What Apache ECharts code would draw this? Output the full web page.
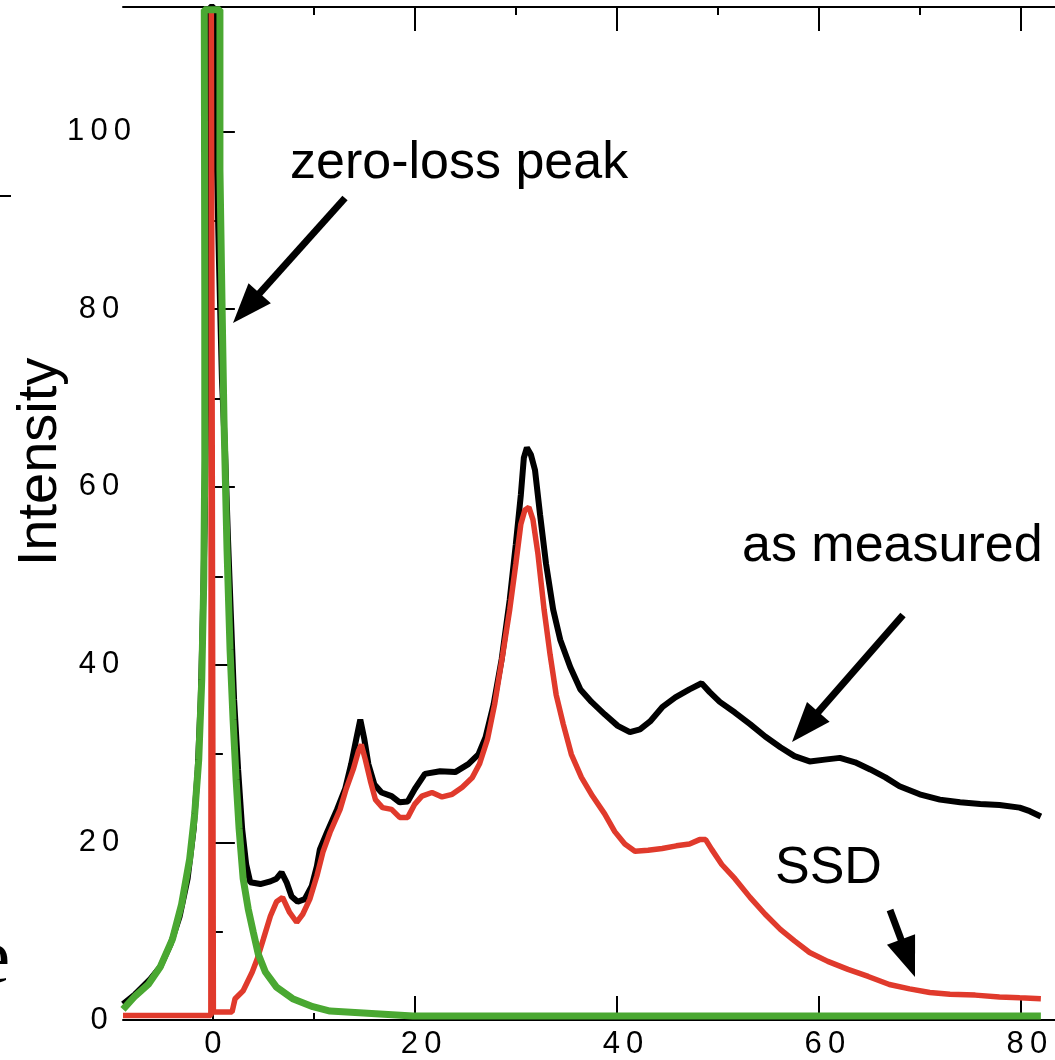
<!DOCTYPE html>
<html><head><meta charset="utf-8">
<script src="https://cdn.jsdelivr.net/npm/echarts@6/dist/echarts.min.js"></script>
<style>html,body{margin:0;padding:0;background:#fff}#c{width:1055px;height:1060px}</style>
</head><body><div id="c"></div>
<script>
const xMajorTicks = [0, 20, 40, 60, 80];
const xMinorTicks = [10, 30, 50, 70];
const yMajorTicks = [0, 20, 40, 60, 80, 100];
const yMinorTicks = [10, 30, 50, 70, 90, 110];

const asMeasured = [
[-8.9,1.8],[-7.7,2.9],[-6.2,4.6],[-5.2,6.0],[-4.2,8.5],[-3.3,11.6],[-2.5,15.9],[-1.9,21.5],[-1.5,28.2],[-1.2,36.1],
[-1.0,45.1],[-0.8,56.3],[-0.7,66.4],[-0.6,77.7],[-0.5,92.3],[-0.4,108],[-0.3,114],[0.1,114],[0.3,101.3],[0.6,85.6],
[0.9,72.1],[1.2,64.2],[1.5,54.1],[1.8,45.1],[2.1,36.1],[2.5,28.2],[2.9,21.5],[3.3,17.5],[3.7,15.5],[4.7,15.3],
[5.7,15.6],[6.3,15.9],[6.8,16.6],[7.3,15.5],[7.8,13.9],[8.4,13.3],[9.1,13.6],[9.8,15.1],[10.3,17.3],[10.6,19.2],
[11.3,21.1],[12.3,23.7],[13.1,26.0],[13.7,28.8],[14.2,31.6],[14.6,33.8],[15.0,31.6],[15.4,28.8],[16.0,26.5],[16.7,25.6],
[17.7,25.2],[18.5,24.5],[19.3,24.6],[20.0,26.0],[21.0,27.7],[22.5,28.0],[24.0,27.9],[25.3,28.8],[26.3,29.9],[27.0,31.8],
[27.8,35.5],[28.6,40.6],[29.4,47.3],[30.0,53.5],[30.5,59.1],[30.8,63.3],[31.1,64.4],[31.5,63.6],[31.9,61.9],[32.4,56.9],
[33.0,51.3],[33.7,46.2],[34.4,42.8],[35.4,39.7],[36.4,37.2],[37.5,35.8],[38.8,34.4],[40.1,33.1],[41.3,32.4],[42.3,32.7],
[43.3,33.6],[44.5,35.2],[45.8,36.3],[47.2,37.2],[48.4,37.9],[49.2,36.9],[50.2,35.8],[51.7,34.6],[53.2,33.3],[54.7,31.9],
[56.2,30.7],[57.6,29.7],[59.1,29.1],[60.6,29.3],[62.1,29.5],[63.6,29.0],[65.1,28.2],[66.6,27.3],[68.0,26.3],[70.0,25.4],
[72.0,24.8],[74.0,24.5],[76.0,24.3],[77.9,24.2],[79.9,23.9],[80.9,23.5],[82.0,22.9]
];

const ssd = [
[-8.9,0.5],[-0.2,0.5],[-0.15,113.4],[0.0,113.4],[0.05,0.9],[1.9,0.9],[2.2,2.4],[3.0,3.3],[3.9,5.4],[4.4,6.9],
[5.0,9.1],[5.7,11.7],[6.3,13.3],[6.9,13.8],[7.6,12.1],[8.3,11.0],[8.9,11.9],[9.6,13.6],[10.3,16.2],[10.9,18.9],
[11.6,21.1],[12.6,23.7],[13.2,26.0],[13.9,28.2],[14.4,30.2],[14.7,31.0],[15.1,29.3],[15.6,26.9],[16.1,24.8],[16.8,23.9],
[17.7,23.7],[18.5,22.8],[19.3,22.8],[20.0,24.3],[20.7,25.2],[21.7,25.6],[22.7,25.1],[23.7,25.4],[24.7,26.2],[25.7,27.3],
[26.4,28.8],[27.2,31.6],[27.9,35.5],[28.7,41.1],[29.4,46.2],[30.0,51.3],[30.5,55.8],[30.9,57.4],[31.3,57.7],[31.7,56.3],
[32.2,52.4],[32.8,46.2],[33.4,41.1],[34.0,36.6],[34.7,33.3],[35.5,29.9],[36.5,27.3],[37.6,25.2],[38.8,23.2],[39.8,21.2],
[40.8,19.8],[41.8,19.0],[43.1,19.1],[44.5,19.3],[45.9,19.6],[47.2,19.8],[48.2,20.3],[48.8,20.3],[49.4,19.2],[50.4,17.5],
[51.7,15.9],[53.2,13.8],[54.7,11.9],[56.2,10.2],[57.6,8.9],[59.1,7.6],[60.9,6.6],[62.9,5.7],[64.9,4.9],[67.0,4.0],
[69.0,3.5],[71.0,3.1],[73.0,2.9],[75.5,2.8],[77.9,2.6],[79.9,2.5],[82.0,2.4]
];

const zeroLoss = [
[-8.9,1.2],[-7.7,2.7],[-6.4,4.0],[-5.2,6.0],[-4.0,9.1],[-3.1,13.0],[-2.3,18.1],[-1.8,23.2],[-1.4,29.3],[-1.1,38.3],
[-0.9,49.6],[-0.8,63.1],[-0.8,81.1],[-0.85,113.7],[0.7,113.7],[0.7,95.7],[0.9,81.1],[1.1,67.6],[1.4,53.0],[1.7,41.7],
[2.0,33.8],[2.3,27.1],[2.6,21.5],[3.0,15.9],[3.5,12.5],[4.0,9.9],[4.5,7.4],[5.2,5.4],[6.3,3.7],[7.9,2.4],
[9.9,1.5],[11.6,1.0],[14.9,0.8],[19.8,0.45],[82.0,0.45]
];

const annotationTexts = ['zero-loss peak', 'as measured', 'SSD'];
const yAxisTitle = 'Intensity';

const FONT = '"Liberation Sans", Arial, sans-serif';
const X_MIN = -8.9, X_MAX = 83.4, Y_MIN = 0, Y_MAX = 114;

function spaced(v){ return String(v).split('').join('\u2009'); }
function xLab(v){ const s = String(v); return (s.length > 1 ? '\u2009\u2009' : '') + spaced(v); }

const axisColor = '#000';
function xAx(grid, pos, ticks, len, showLine, showLabel){
  return {
    type:'value', gridIndex:grid, position:pos, min:X_MIN, max:X_MAX,
    axisLine:{show:showLine, lineStyle:{color:axisColor, width:2}},
    axisTick:{show:true, inside:true, length:len, customValues:ticks, lineStyle:{color:axisColor, width:2}},
    axisLabel:{show:showLabel, customValues:ticks, formatter:xLab, color:'#000', fontSize:31, fontFamily:FONT, margin:9, align:'center'},
    splitLine:{show:false}
  };
}
function yAx(grid, ticks, len, showLine, showLabel){
  return {
    type:'value', gridIndex:grid, position:'left', min:Y_MIN, max:Y_MAX,
    axisLine:{show:showLine, lineStyle:{color:axisColor, width:2}},
    axisTick:{show:true, inside:true, length:len, customValues:ticks, lineStyle:{color:axisColor, width:2}},
    axisLabel:{show:showLabel, customValues:ticks, formatter:spaced, color:'#000', fontSize:31, fontFamily:FONT, margin:24, align:'center'},
    splitLine:{show:false}
  };
}

const labelPos = [[290,164],[742,547],[775,869]];
const arrowDefs = [
  {from:[345,198], to:[233,323]},
  {from:[903,615], to:[792,742]},
  {from:[890,910], to:[915,977]}
];
function arrow(a){
  const [x1,y1]=a.from, [x2,y2]=a.to;
  const dx=x2-x1, dy=y2-y1, L=Math.hypot(dx,dy), ux=dx/L, uy=dy/L;
  const hl=40, hw=15;
  const bx=x2-ux*hl, by=y2-uy*hl, px=-uy, py=ux;
  return [
    {type:'line', shape:{x1:x1,y1:y1,x2:bx+ux*3,y2:by+uy*3}, style:{stroke:'#000', lineWidth:7}},
    {type:'polygon', shape:{points:[[x2,y2],[bx+px*hw,by+py*hw],[bx-px*hw,by-py*hw]]}, style:{fill:'#000'}}
  ];
}

const graphics = [];
annotationTexts.forEach((t,i)=>{
  graphics.push({type:'text', x:labelPos[i][0], y:labelPos[i][1], style:{text:t, fontSize:52, fontFamily:FONT, fill:'#000', textAlign:'left', textVerticalAlign:'middle'}});
});
arrowDefs.forEach(a=>arrow(a).forEach(g=>graphics.push(g)));
graphics.push({type:'text', x:41, y:462, rotation:Math.PI/2, style:{text:yAxisTitle, fontSize:56, fontFamily:FONT, fill:'#000', textAlign:'center', textVerticalAlign:'middle'}});
graphics.push({type:'line', shape:{x1:0,y1:196,x2:11,y2:196}, style:{stroke:'#000', lineWidth:2}});
graphics.push({type:'text', x:10, y:962, style:{text:'e', fontSize:78, fontFamily:'"Liberation Serif", serif', fill:'#000', textAlign:'right', textVerticalAlign:'middle'}});

const chart = echarts.init(document.getElementById('c'), null, {renderer:'canvas'});
chart.setOption({
  animation:false,
  backgroundColor:'#fff',
  grid:[
    {left:123, right:0, top:7, bottom:39, containLabel:false},
    {left:123, right:0, top:7, bottom:39, containLabel:false}
  ],
  xAxis:[
    xAx(0,'bottom',xMajorTicks,24,true,true),
    xAx(0,'top',xMajorTicks,24,true,false),
    xAx(1,'bottom',xMinorTicks,8,false,false),
    xAx(1,'top',xMinorTicks,8,false,false)
  ],
  yAxis:[
    yAx(0,yMajorTicks,22,true,true),
    yAx(1,yMinorTicks,10,false,false)
  ],
  series:[
    {name:'as measured', type:'line', xAxisIndex:0, yAxisIndex:0, data:asMeasured, showSymbol:false, symbol:'none', lineStyle:{color:'#000', width:6}, z:2},
    {name:'SSD', type:'line', xAxisIndex:0, yAxisIndex:0, data:ssd, showSymbol:false, symbol:'none', lineStyle:{color:'#e03a2c', width:5.5}, z:3},
    {name:'zero-loss peak', type:'line', xAxisIndex:0, yAxisIndex:0, data:zeroLoss, showSymbol:false, symbol:'none', lineStyle:{color:'#4aa832', width:7}, z:4}
  ],
  graphic:graphics
});
</script>
</body></html>
